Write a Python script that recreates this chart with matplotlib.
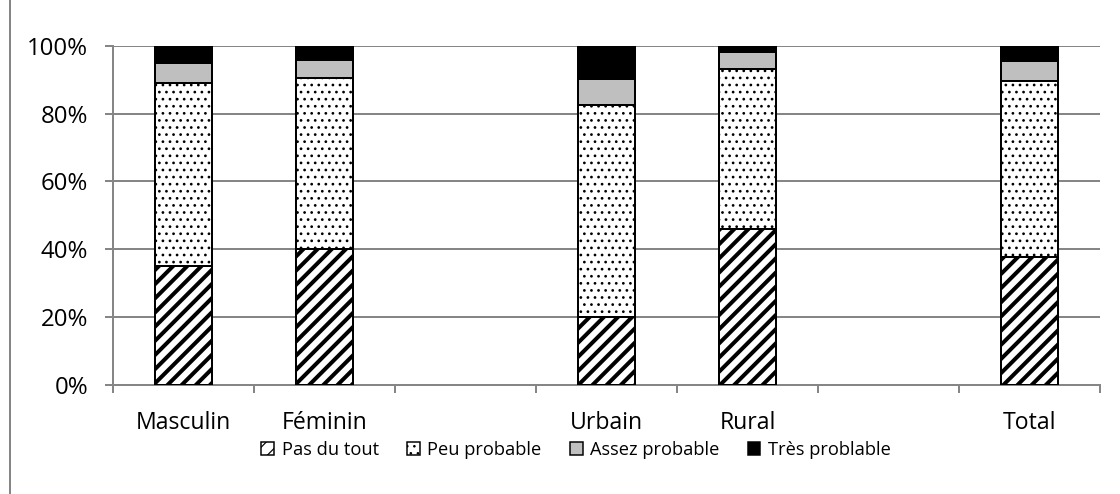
import matplotlib
matplotlib.use("Agg")
import matplotlib.pyplot as plt
import numpy as np
from matplotlib.patches import Patch
from matplotlib.lines import Line2D

categories = ["Masculin", "Féminin", "", "Urbain", "Rural", "", "Total"]
series_names = ["Pas du tout", "Peu probable", "Assez probable", "Très problable"]
pas_du_tout = [35.0, 40.2, None, 19.9, 46.0, None, 37.6]
peu_probable = [54.0, 50.2, None, 62.6, 47.2, None, 52.1]
assez_probable = [6.0, 5.5, None, 7.7, 4.8, None, 5.7]
tres_probable = [5.0, 4.1, None, 9.8, 2.0, None, 4.6]
y_ticks = [0, 20, 40, 60, 80, 100]
y_tick_labels = ["0%", "20%", "40%", "60%", "80%", "100%"]

DPI = 85
W, H = 1120, 494
def px(v):
    return v * 72.0 / DPI

plt.rcParams['font.family'] = ['Open Sans', 'DejaVu Sans']
plt.rcParams['hatch.color'] = 'black'

fig = plt.figure(figsize=(W / DPI, H / DPI), dpi=DPI)
ax = fig.add_axes([113 / W, 1 - 385 / H, (1100 - 113) / W, (385 - 45.7) / H])

styles = [
    dict(facecolor='white', hatch='//', hlw=3.4),
    dict(facecolor='white', hatch='..', hlw=1.1),
    dict(facecolor='#bfbfbf', hatch=None, hlw=1.0),
    dict(facecolor='black', hatch=None, hlw=1.0),
]
series = [pas_du_tout, peu_probable, assez_probable, tres_probable]

def set_hlw(p, w):
    if hasattr(p, 'set_hatch_linewidth'):
        p.set_hatch_linewidth(w)

idx = [i for i, c in enumerate(categories) if pas_du_tout[i] is not None]
x = np.array(idx, dtype=float)
bottom = np.zeros(len(idx))
for vals, st in zip(series, styles):
    plt.rcParams['hatch.linewidth'] = st['hlw']
    v = np.array([vals[i] for i in idx], dtype=float)
    bars = ax.bar(x, v, width=0.4, bottom=bottom, facecolor=st['facecolor'],
                  hatch=st['hatch'], edgecolor='black', linewidth=px(2.0), zorder=3)
    for p in bars:
        set_hlw(p, st['hlw'])
    bottom += v

ax.set_xlim(-0.5, len(categories) - 0.5)
ax.set_ylim(0, 100)
ax.set_yticks(y_ticks)
ax.set_yticklabels(y_tick_labels)
ax.set_xticks(range(len(categories)))
ax.set_xticklabels(categories)
ax.set_xticks(np.arange(-0.5, len(categories), 1.0), minor=True)
ax.tick_params(axis='x', which='major', length=0, pad=px(26), labelsize=px(23))
ax.tick_params(axis='x', which='minor', length=px(8), width=px(2), color='#868686', direction='out')
ax.tick_params(axis='y', length=px(8), width=px(2), color='#868686', pad=px(17), labelsize=px(24))

ax.yaxis.grid(True, color='#868686', linewidth=px(2))
ax.set_axisbelow(True)
for s in ['top', 'right']:
    ax.spines[s].set_visible(False)
for s in ['left', 'bottom']:
    ax.spines[s].set_color('#868686')
    ax.spines[s].set_linewidth(px(2))

handles = []
for st in styles:
    plt.rcParams['hatch.linewidth'] = st['hlw']
    h = Patch(facecolor=st['facecolor'], hatch=st['hatch'], edgecolor='black',
              linewidth=px(1.5))
    set_hlw(h, st['hlw'])
    handles.append(h)
fig.legend(handles, series_names, loc='center', bbox_to_anchor=(576 / W, 1 - 450 / H),
           ncol=4, frameon=False, fontsize=px(18.3), handlelength=0.7, handleheight=0.7,
           handletextpad=0.4, columnspacing=1.55)

fig.add_artist(Line2D([10 / W, 10 / W], [0, 1], color='#868686', linewidth=px(2)))

fig.savefig('out.png', dpi=DPI)
